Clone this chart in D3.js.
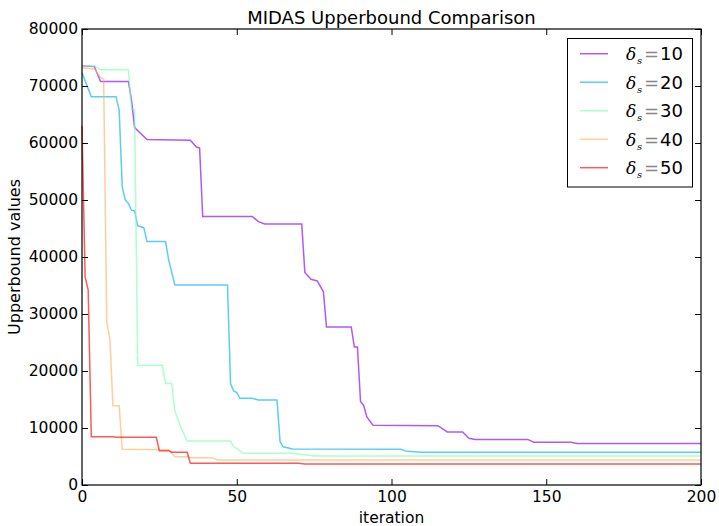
<!DOCTYPE html>
<html>
<head>
<meta charset="utf-8">
<script src="https://cdn.jsdelivr.net/npm/d3@7"></script>
<style>
  body { margin: 0; background: #fff; }
  text { font-family: "DejaVu Sans", sans-serif; fill: #000; }
  .axis path { display: none; }
  .axis line { stroke: #000; }
</style>
</head>
<body>
<div id="chart"></div>
<script>
// series values: [iteration, upper bound]
var deltas = [10, 20, 30, 40, 50];
var colors = ["#8000ff", "#00b4ec", "#80ffb4", "#ffb462", "#ff0000"];

var s10 = [[0,73560],[4,73400],[6,70800],[15,70800],[16,67500],[17,62700],[21,60600],[35,60500],
  [37,59300],[38,59100],[39,47100],[55,47100],[57,46200],[59,45800],[71,45800],[72,37300],[74,36100],
  [76,35800],[78,33900],[79,27700],[87,27700],[88,24200],[89,24200],[90,14600],[91,14000],[92,12000],
  [94,10500],[115,10400],[118,9300],[123,9300],[125,8200],[127,8000],[144,8000],[146,7500],[158,7500],
  [160,7300],[200,7300]];
var s20 = [[0,72300],[3,68100],[11,68100],[12,65800],[13,52300],[14,50000],[15,49400],[16,48200],
  [17,48100],[18,45500],[20,45100],[21,42700],[27,42700],[28,39500],[30,35100],[47,35100],[48,17800],
  [49,16500],[50,16200],[51,15200],[55,15200],[57,14900],[63,14900],[64,7600],[65,6700],[68,6300],
  [103,6260],[105,5900],[110,5740],[200,5740]];
var s30 = [[0,73560],[4,73500],[6,72860],[15,72860],[16,66000],[17,65900],[18,21000],[26,21000],
  [27,17800],[29,17800],[30,13000],[32,10000],[34,7700],[48,7700],[49,6700],[50,6400],[52,5560],
  [68,5560],[75,5100],[200,5100]];
var s40 = [[0,73210],[4,73000],[6,71500],[7,71200],[8,28600],[9,25700],[10,13900],[12,13900],
  [13,6260],[28,6200],[30,4970],[34,4970],[35,4800],[42,4800],[44,4390],[200,4390]];
var s50 = [[0,63000],[1,36500],[2,34200],[3,8470],[10,8470],[11,8370],[24,8370],[25,6020],[28,6020],
  [29,5740],[34,5740],[35,3800],[70,3800],[72,3680],[200,3680]];
var series = [s10, s20, s30, s40, s50];

var xTicks = [0, 50, 100, 150, 200];
var yTicks = [0, 10000, 20000, 30000, 40000, 50000, 60000, 70000, 80000];

function init() {
    var w = 719, h = 526;
    var x0 = 82, x1 = 701, y0 = 29, y1 = 485;

    var svg = d3.select("#chart").append("svg")
        .attr("width", w)
        .attr("height", h);

    var xScale = d3.scaleLinear().domain([0, 200]).range([x0, x1]);
    var yScale = d3.scaleLinear().domain([0, 80000]).range([y1, y0]);

    var line = d3.line()
        .x(function(d) { return xScale(d[0]); })
        .y(function(d) { return yScale(d[1]); });

    //lines
    svg.selectAll("path.series")
        .data(series)
        .enter().append("path")
        .attr("class", "series")
        .attr("d", line)
        .attr("fill", "none")
        .attr("stroke", function(d, i) { return colors[i]; })
        .attr("stroke-opacity", 0.65)
        .attr("stroke-width", 1.5);

    //axes, ticks pointing inward on all four sides
    svg.append("g").attr("class", "axis")
        .attr("transform", "translate(0," + y1 + ")")
        .call(d3.axisBottom(xScale).tickValues(xTicks).tickSizeInner(-6).tickPadding(6).tickFormat(d3.format("d")))
        .selectAll("text").style("font-size", "15.5px");
    svg.append("g").attr("class", "axis")
        .attr("transform", "translate(0," + y0 + ")")
        .call(d3.axisTop(xScale).tickValues(xTicks).tickSizeInner(-6).tickFormat(""));
    svg.append("g").attr("class", "axis")
        .attr("transform", "translate(" + x0 + ",0)")
        .call(d3.axisLeft(yScale).tickValues(yTicks).tickSizeInner(-6).tickPadding(4).tickFormat(d3.format("d")))
        .selectAll("text").style("font-size", "15.5px");
    svg.append("g").attr("class", "axis")
        .attr("transform", "translate(" + x1 + ",0)")
        .call(d3.axisRight(yScale).tickValues(yTicks).tickSizeInner(-6).tickFormat(""));

    svg.append("rect")
        .attr("x", x0).attr("y", y0)
        .attr("width", x1 - x0).attr("height", y1 - y0)
        .attr("fill", "none").attr("stroke", "#000").attr("stroke-width", 1.2);

    //titles
    svg.append("text")
        .attr("x", (x0 + x1) / 2).attr("y", 24)
        .attr("text-anchor", "middle")
        .style("font-size", "18px")
        .text("MIDAS Upperbound Comparison");
    svg.append("text")
        .attr("x", (x0 + x1) / 2).attr("y", 523)
        .attr("text-anchor", "middle")
        .style("font-size", "15.5px")
        .text("iteration");
    svg.append("text")
        .attr("transform", "translate(20," + ((y0 + y1) / 2) + ") rotate(-90)")
        .attr("text-anchor", "middle")
        .style("font-size", "16px")
        .text("Upperbound values");

    //legend
    var lg = svg.append("g");
    lg.append("rect")
        .attr("x", 567.5).attr("y", 38.5)
        .attr("width", 125).attr("height", 148.5)
        .attr("fill", "#fff").attr("stroke", "#000").attr("stroke-width", 1);

    var rows = lg.selectAll("g.row")
        .data(deltas)
        .enter().append("g")
        .attr("class", "row")
        .attr("transform", function(d, i) { return "translate(0," + (53.7 + i * 28.5) + ")"; });
    rows.append("line")
        .attr("x1", 580).attr("x2", 608)
        .attr("stroke", function(d, i) { return colors[i]; })
        .attr("stroke-opacity", 0.65)
        .attr("stroke-width", 1.5);
    var lt = rows.append("text")
        .attr("y", 6.5)
        .style("font-size", "18px");
    lt.append("tspan")
        .attr("x", 626)
        .style("font-family", "'DejaVu Serif', serif").style("font-style", "italic")
        .style("font-size", "17px")
        .text("δ");
    lt.append("tspan")
        .attr("x", 637).attr("dy", 4)
        .style("font-family", "'DejaVu Serif', serif").style("font-style", "italic")
        .style("font-size", "10px")
        .text("s");
    lt.append("tspan")
        .attr("x", 644).attr("dy", -4)
        .style("fill", "#888")
        .text("=");
    lt.append("tspan")
        .attr("x", 660)
        .text(function(d) { return d; });
}
window.onload = init;
</script>
</body>
</html>
